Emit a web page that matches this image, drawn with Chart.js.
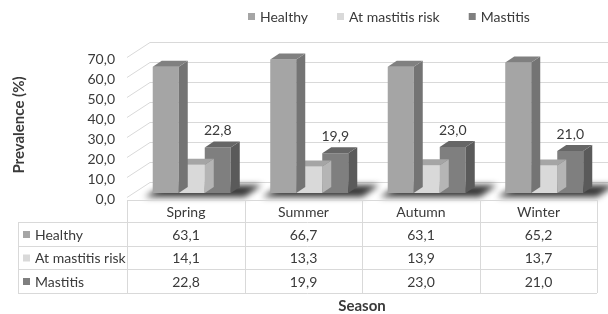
<!DOCTYPE html>
<html><head><meta charset="utf-8">
<script src="https://cdn.jsdelivr.net/npm/chart.js@4.4.1/dist/chart.umd.min.js"></script>
<style>html,body{margin:0;padding:0;background:#fff}canvas{display:block}</style>
</head><body>
<canvas id="c" width="608" height="314"></canvas>
<script>
const categories = ['Spring', 'Summer', 'Autumn', 'Winter'];
const seriesNames = ['Healthy', 'At mastitis risk', 'Mastitis'];
const healthy = [63.1, 66.7, 63.1, 65.2];
const atRisk = [14.1, 13.3, 13.9, 13.7];
const mastitis = [22.8, 19.9, 23.0, 21.0];
const yMin = 0, yMax = 70, yStep = 10;
const yTitle = 'Prevalence (%)';
const xTitle = 'Season';

const FONT = 'Lato, "Open Sans", sans-serif';
const TEXT = '#3a3a3a';
const FS = 14;
const fronts = ['#a5a5a5', '#d9d9d9', '#7f7f7f'];
const tops = ['#808080', '#a5a5a5', '#666666'];
const sides = ['#747474', '#b5b5b5', '#5a5a5a'];
const DX = 9, DY = 6;          // bar depth
const BACKX = 17, BACKY = 11;  // bar plane -> back wall
const FRONTX = -6, FRONTY = 4; // bar plane -> front plane
const fmt = v => v.toFixed(1).replace('.', ',');
const seriesData = [healthy, atRisk, mastitis];

const deco = {
  id: 'deco',
  beforeDatasetsDraw(chart) {
    const {ctx, chartArea: a, scales: {y}} = chart;
    ctx.save();
    ctx.strokeStyle = '#d9d9d9';
    ctx.lineWidth = 1;
    for (let v = yMin; v <= yMax; v += yStep) {
      const py = Math.round(y.getPixelForValue(v));
      const by = py - BACKY + 0.5;
      ctx.beginPath();
      ctx.moveTo(a.left + FRONTX, py + FRONTY + 0.5);
      ctx.lineTo(a.left + BACKX, by);
      ctx.lineTo(chart.width, by);
      ctx.stroke();
    }
    // floor shadows
    const m0 = chart.getDatasetMeta(0), m2 = chart.getDatasetMeta(2);
    ctx.filter = 'blur(3px)';
    ctx.fillStyle = 'rgba(20,20,20,0.85)';
    for (let i = 0; i < categories.length; i++) {
      const e0 = m0.data[i], e2 = m2.data[i];
      const gl = e0.x - e0.width / 2, gr = e2.x + e2.width / 2, base = e0.base;
      ctx.beginPath();
      ctx.moveTo(gl - 8, base + 4);
      ctx.lineTo(gr + 14, base + 4);
      ctx.lineTo(gr + DX + 22, base - 8);
      ctx.lineTo(gl + 12, base - 8);
      ctx.closePath();
      ctx.fill();
    }
    ctx.filter = 'none';
    ctx.restore();
  },
  afterDatasetDraw(chart, args) {
    const {ctx} = chart;
    const k = args.index;
    ctx.save();
    args.meta.data.forEach(el => {
      const l = el.x - el.width / 2, r = el.x + el.width / 2, t = el.y, b = el.base;
      ctx.fillStyle = sides[k];
      ctx.beginPath();
      ctx.moveTo(r, t); ctx.lineTo(r + DX, t - DY); ctx.lineTo(r + DX, b - DY); ctx.lineTo(r, b);
      ctx.closePath(); ctx.fill();
      ctx.fillStyle = tops[k];
      ctx.beginPath();
      ctx.moveTo(l, t); ctx.lineTo(r, t); ctx.lineTo(r + DX, t - DY); ctx.lineTo(l + DX, t - DY);
      ctx.closePath(); ctx.fill();
    });
    ctx.restore();
  },
  afterDraw(chart) {
    const {ctx, chartArea: a, scales: {x}} = chart;
    ctx.save();
    // data labels for Mastitis
    ctx.font = FS + 'px ' + FONT;
    ctx.fillStyle = TEXT;
    ctx.textAlign = 'center';
    ctx.textBaseline = 'middle';
    chart.getDatasetMeta(2).data.forEach((el, i) => {
      ctx.fillText(fmt(mastitis[i]), el.x, el.y - 17);
    });
    // legend
    let lx = 248;
    const ly = 17;
    ctx.textAlign = 'left';
    seriesNames.forEach((n, k) => {
      ctx.fillStyle = fronts[k];
      ctx.fillRect(lx, ly - 4, 7, 7);
      ctx.fillStyle = TEXT;
      ctx.fillText(n, lx + 12, ly);
      lx += 12 + ctx.measureText(n).width + 29;
    });
    // table
    const band = a.width / categories.length;
    const colL = i => Math.round(x.getPixelForValue(i) - band / 2 + FRONTX);
    const tLeft = 18, c0 = colL(0), tRight = colL(categories.length);
    const rows = [200, 222, 246, 269, 293];
    ctx.strokeStyle = '#d9d9d9';
    ctx.lineWidth = 1;
    ctx.beginPath();
    ctx.moveTo(c0, rows[0] + 0.5); ctx.lineTo(tRight, rows[0] + 0.5);
    for (let r = 1; r < rows.length; r++) {
      ctx.moveTo(tLeft, rows[r] + 0.5); ctx.lineTo(tRight, rows[r] + 0.5);
    }
    ctx.moveTo(tLeft + 0.5, rows[1]); ctx.lineTo(tLeft + 0.5, rows[4]);
    for (let i = 0; i <= categories.length; i++) {
      const cx = colL(i) + 0.5;
      ctx.moveTo(cx, rows[0]); ctx.lineTo(cx, rows[4]);
    }
    ctx.stroke();
    ctx.fillStyle = TEXT;
    ctx.textAlign = 'center';
    categories.forEach((c, i) => {
      const cx = (colL(i) + colL(i + 1)) / 2;
      ctx.fillText(c, cx, (rows[0] + rows[1]) / 2 + 1);
      seriesData.forEach((d, k) => {
        ctx.fillText(fmt(d[i]), cx, (rows[k + 1] + rows[k + 2]) / 2 + 1);
      });
    });
    ctx.textAlign = 'left';
    seriesNames.forEach((n, k) => {
      const cy = (rows[k + 1] + rows[k + 2]) / 2;
      ctx.fillStyle = fronts[k];
      ctx.fillRect(23, cy - 3, 7, 7);
      ctx.fillStyle = TEXT;
      ctx.fillText(n, 35, cy + 1);
    });
    // axis titles
    ctx.font = 'bold 15px ' + FONT;
    ctx.textAlign = 'center';
    ctx.fillText(xTitle, (c0 + tRight) / 2, 306);
    ctx.translate(19, 125);
    ctx.rotate(-Math.PI / 2);
    ctx.fillText(yTitle, 0, 0);
    ctx.restore();
  }
};

new Chart(document.getElementById('c'), {
  type: 'bar',
  data: {
    labels: categories,
    datasets: seriesNames.map((n, k) => ({label: n, data: seriesData[k], backgroundColor: fronts[k]}))
  },
  options: {
    responsive: false,
    animation: false,
    devicePixelRatio: 1,
    layout: {padding: {top: 53, bottom: 121, left: 0, right: 5}},
    datasets: {bar: {categoryPercentage: 0.664, barPercentage: 1}},
    plugins: {legend: {display: false}, tooltip: {enabled: false}},
    scales: {
      x: {display: false},
      y: {
        min: yMin, max: yMax,
        afterFit(s) { s.width = 133; },
        grid: {display: false, drawTicks: false},
        border: {display: false},
        ticks: {stepSize: yStep, padding: 18, labelOffset: 6, color: TEXT,
                font: {family: FONT, size: FS}, callback: v => fmt(v)}
      }
    }
  },
  plugins: [deco]
});
</script>
</body></html>
